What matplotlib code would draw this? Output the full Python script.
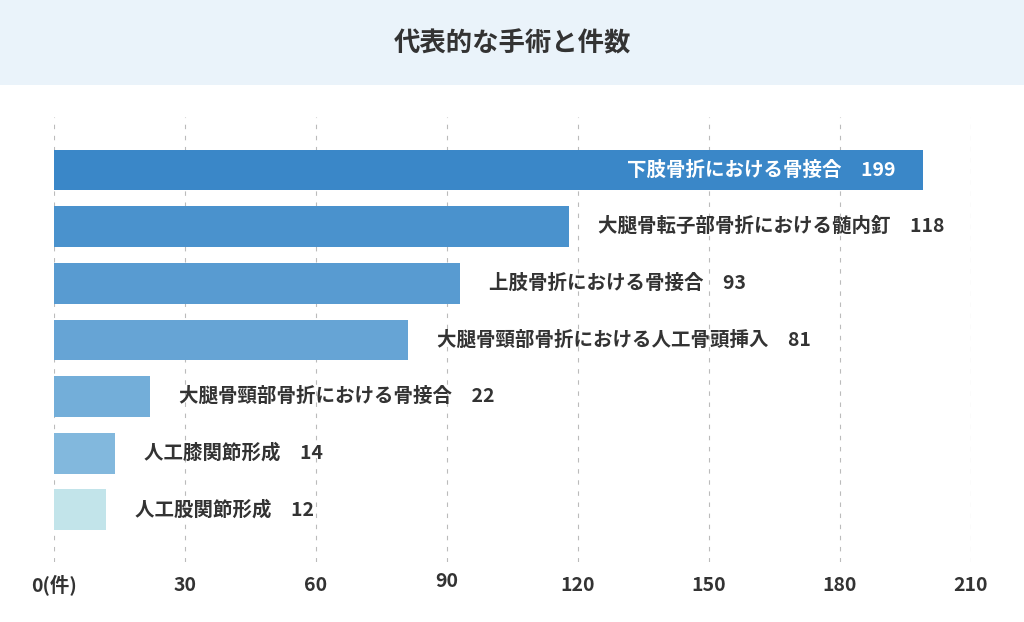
import matplotlib
matplotlib.use("Agg")
import matplotlib.pyplot as plt
from matplotlib.patches import Rectangle
from matplotlib.transforms import ScaledTranslation, offset_copy

plt.rcParams['font.family'] = ['Noto Sans CJK JP', 'DejaVu Sans']

title = "代表的な手術と件数"
categories = [
    "下肢骨折における骨接合",
    "大腿骨転子部骨折における髄内釘",
    "上肢骨折における骨接合",
    "大腿骨頸部骨折における人工骨頭挿入",
    "大腿骨頸部骨折における骨接合",
    "人工膝関節形成",
    "人工股関節形成",
]
values = [199, 118, 93, 81, 22, 14, 12]
bar_colors = ["#3a87c8", "#4a92cd", "#589bd1", "#66a4d5", "#73aed9", "#82b8dd", "#c2e4ea"]
tick_values = [0, 30, 60, 90, 120, 150, 180, 210]
tick_labels = ["0(件)", "30", "60", "90", "120", "150", "180", "210"]

text_color = "#333333"

fig = plt.figure(figsize=(10.24, 6.22), dpi=100)
fig.patch.set_facecolor("white")
fig.patches.append(Rectangle((0, 1 - 85 / 622), 1, 85 / 622, transform=fig.transFigure,
                             facecolor="#eaf3fa", edgecolor="none", zorder=0))
fig.text(0.5, 1 - 44 / 622, title, ha="center", va="center", fontsize=19,
         fontweight="bold", color=text_color)

ax = fig.add_axes([54 / 1024, 1 - 562 / 622, (971 - 54) / 1024, (562 - 117) / 622])
ax.set_facecolor("none")
ypos = list(range(len(values)))
ax.barh(ypos, values, height=0.72, color=bar_colors, zorder=2)
ax.set_xlim(0, 210)
ax.set_ylim(6.92, -0.935)

ax.set_xticks(tick_values)
ax.set_xticklabels(tick_labels, fontsize=14, fontweight="bold", color=text_color)
ax.tick_params(axis="x", length=0, pad=21)
ax.set_yticks([])
for s in ax.spines.values():
    s.set_visible(False)
ax.grid(axis="x", color="#bbbbbb", linestyle=(0, (4, 6)), linewidth=0.8, zorder=0)
ax.set_axisbelow(True)

for lab in ax.get_xticklabels():
    lab.set_verticalalignment("baseline")
    # slight raise of the "90" tick label as in the reference
    if lab.get_text() == "90":
        lab.set_transform(lab.get_transform() + ScaledTranslation(0, 3 / 72, fig.dpi_scale_trans))

for i, (name, v) in enumerate(zip(categories, values)):
    label = f"{name}\u3000{v}"
    if i == 0:
        tr = offset_copy(ax.transData, fig=fig, x=-27, y=0, units="dots")
        ax.text(v, i, label, ha="right", va="center", fontsize=14, fontweight="bold",
                color="white", transform=tr, zorder=3)
    else:
        tr = offset_copy(ax.transData, fig=fig, x=29, y=0, units="dots")
        ax.text(v, i, label, ha="left", va="center", fontsize=14, fontweight="bold",
                color=text_color, transform=tr, zorder=3)

fig.savefig("out.png", dpi=100)
